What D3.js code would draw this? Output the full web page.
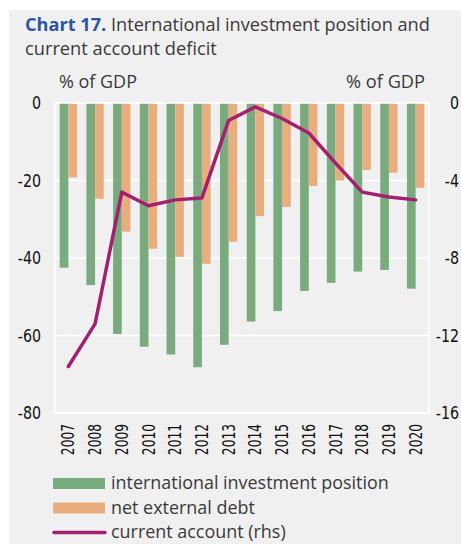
<!DOCTYPE html>
<html>
<head>
<meta charset="utf-8">
<script src="https://cdn.jsdelivr.net/npm/d3@7"></script>
<style>
  html, body { margin: 0; padding: 0; background: #fff; }
  svg { display: block; }
</style>
</head>
<body>
<div id="chart"></div>
<script>
const years = ["2007", "2008", "2009", "2010", "2011", "2012", "2013",
  "2014", "2015", "2016", "2017", "2018", "2019", "2020"];

// % of GDP, left axis
const iip = [-42.5, -47.0, -59.6, -62.9, -64.9, -68.2, -62.4,
  -56.4, -53.7, -48.5, -46.4, -43.5, -43.1, -47.9];
const netDebt = [-19.2, -24.7, -33.2, -37.6, -39.7, -41.5, -35.8,
  -29.2, -26.8, -21.4, -20.0, -17.3, -18.0, -21.9];

// % of GDP, right axis
const currentAccount = [-13.6, -11.4, -4.6, -5.3, -5.0, -4.9, -0.9,
  -0.2, -0.8, -1.55, -3.1, -4.6, -4.85, -5.0];

const leftTicks = [0, -20, -40, -60, -80];
const rightTicks = [0, -4, -8, -12, -16];

const legendItems = [
  { label: "international investment position", type: "bar", color: "#7aab7f" },
  { label: "net external debt", type: "bar", color: "#e8ae80" },
  { label: "current account (rhs)", type: "line", color: "#a3206f" }
];

const WIDTH = 461, HEIGHT = 544;
const plot = { left: 55, right: 429, top: 103, bottom: 413 };
const GREEN = "#7aab7f", ORANGE = "#e8ae80", PURPLE = "#a3206f";
const tickFont = "'DejaVu Sans', sans-serif";
const sans = "'Open Sans', 'Noto Sans', sans-serif";
const TEXT = "#3a3a3a";

// shrink/grow a text's font size so it spans a given width
const fitWidth = (sel, target, base) => {
  sel.each(function () {
    const w = this.getComputedTextLength();
    if (w > 0) d3.select(this).attr("font-size", base * target / w);
  });
};

const svg = d3.select("#chart")
  .append("svg")
  .attr("width", WIDTH)
  .attr("height", HEIGHT);

// grey panel
svg.append("rect")
  .attr("x", 9).attr("y", 10)
  .attr("width", WIDTH - 9).attr("height", HEIGHT - 10)
  .attr("fill", "#f0f0f0");

// title
const title = svg.append("text")
  .attr("x", 25).attr("y", 31)
  .attr("font-family", sans)
  .attr("font-size", 18.5)
  .attr("fill", TEXT);
title.append("tspan")
  .attr("font-weight", 700)
  .attr("fill", "#2b55a6")
  .text("Chart 17.");
title.append("tspan").text(" International investment position and");
fitWidth(title, 405, 18.5);

const title2 = svg.append("text")
  .attr("x", 25).attr("y", 55)
  .attr("font-family", sans)
  .attr("font-size", 18.5)
  .attr("fill", TEXT)
  .text("current account deficit");
fitWidth(title2, 192, 18.5);

// scales
const x = d3.scaleBand()
  .domain(years)
  .range([plot.left, plot.right])
  .padding(0);

const pairWidth = x.bandwidth() * 0.65;
const xInner = d3.scaleBand()
  .domain(["iip", "debt"])
  .range([0, pairWidth]);

const yLeft = d3.scaleLinear()
  .domain([-80, 0])
  .range([plot.bottom, plot.top]);

const yRight = d3.scaleLinear()
  .domain([-16, 0])
  .range([plot.bottom, plot.top]);

// gridlines
svg.append("g")
  .selectAll("line")
  .data(leftTicks)
  .join("line")
  .attr("x1", plot.left).attr("x2", plot.right)
  .attr("y1", d => yLeft(d)).attr("y2", d => yLeft(d))
  .attr("stroke", "#fff")
  .attr("stroke-width", 1.5);

// bars
const barData = years.map((yr, i) => ({ year: yr, iip: iip[i], debt: netDebt[i] }));

const groups = svg.append("g")
  .selectAll("g")
  .data(barData)
  .join("g")
  .attr("transform", d => `translate(${x(d.year) + (x.bandwidth() - pairWidth) / 2},0)`);

groups.append("rect")
  .attr("x", xInner("iip"))
  .attr("width", xInner.bandwidth())
  .attr("y", yLeft(0))
  .attr("height", d => yLeft(d.iip) - yLeft(0))
  .attr("fill", GREEN);

groups.append("rect")
  .attr("x", xInner("debt"))
  .attr("width", xInner.bandwidth())
  .attr("y", yLeft(0))
  .attr("height", d => yLeft(d.debt) - yLeft(0))
  .attr("fill", ORANGE);

// plot frame
svg.append("rect")
  .attr("x", plot.left).attr("y", plot.top)
  .attr("width", plot.right - plot.left)
  .attr("height", plot.bottom - plot.top)
  .attr("fill", "none")
  .attr("stroke", "#fff")
  .attr("stroke-width", 1.5);

// current account line
const line = d3.line()
  .x((d, i) => x(years[i]) + x.bandwidth() / 2)
  .y(d => yRight(d));

svg.append("path")
  .datum(currentAccount)
  .attr("d", line)
  .attr("fill", "none")
  .attr("stroke", PURPLE)
  .attr("stroke-width", 3.5)
  .attr("stroke-linejoin", "round")
  .attr("stroke-linecap", "round");

// axes (condensed look by squeezing glyphs horizontally)
const styleAxis = g => {
  g.select(".domain").remove();
  g.selectAll(".tick line").remove();
  g.selectAll(".tick text")
    .attr("font-family", tickFont)
    .attr("font-size", 18.5)
    .attr("fill", "#111")
    .attr("transform", "scale(0.77,1)");
};

svg.append("g")
  .attr("transform", `translate(${plot.left - 14},0)`)
  .call(d3.axisLeft(yLeft).tickValues(leftTicks).tickFormat(d => String(d)).tickSize(0).tickPadding(0))
  .call(styleAxis);

svg.append("g")
  .attr("transform", `translate(459,0)`)
  .call(d3.axisLeft(yRight).tickValues(rightTicks).tickFormat(d => String(d)).tickSize(0).tickPadding(0))
  .call(styleAxis);

const xAxis = svg.append("g")
  .attr("transform", `translate(0,424)`)
  .call(d3.axisBottom(x).tickSize(0).tickPadding(0));
xAxis.select(".domain").remove();
xAxis.selectAll(".tick text")
  .attr("font-family", tickFont)
  .attr("font-size", 17)
  .attr("fill", "#111")
  .attr("text-anchor", "end")
  .attr("x", 0)
  .attr("y", 0)
  .attr("dy", "0.36em")
  .attr("transform", "rotate(-90) scale(0.72,1)");

// unit labels
const unitLeft = svg.append("text")
  .attr("x", 59).attr("y", 88)
  .attr("font-family", sans)
  .attr("font-size", 16.5)
  .attr("fill", TEXT)
  .text("% of GDP");
fitWidth(unitLeft, 78, 16.5);

const unitRight = svg.append("text")
  .attr("x", 425).attr("y", 88)
  .attr("text-anchor", "end")
  .attr("font-family", sans)
  .attr("font-size", 16.5)
  .attr("fill", TEXT)
  .text("% of GDP");
fitWidth(unitRight, 79, 16.5);

// legend
const legend = svg.append("g")
  .selectAll("g")
  .data(legendItems)
  .join("g")
  .attr("transform", (d, i) => `translate(53,${483.5 + i * 24.5})`);

legend.filter(d => d.type === "bar")
  .append("rect")
  .attr("x", 0).attr("y", -5.5)
  .attr("width", 52).attr("height", 11)
  .attr("fill", d => d.color);

legend.filter(d => d.type === "line")
  .append("line")
  .attr("x1", 1).attr("x2", 52)
  .attr("y1", 0).attr("y2", 0)
  .attr("stroke", d => d.color)
  .attr("stroke-width", 3.5)
  .attr("stroke-linecap", "round");

const legendText = legend.append("text")
  .attr("x", 58).attr("y", 0)
  .attr("dy", "0.33em")
  .attr("font-family", sans)
  .attr("font-size", 16.5)
  .attr("fill", TEXT)
  .text(d => d.label);

// size all legend labels from the longest one
const firstW = legendText.node().getComputedTextLength();
legendText.attr("font-size", 16.5 * 278 / firstW);
</script>
</body>
</html>
